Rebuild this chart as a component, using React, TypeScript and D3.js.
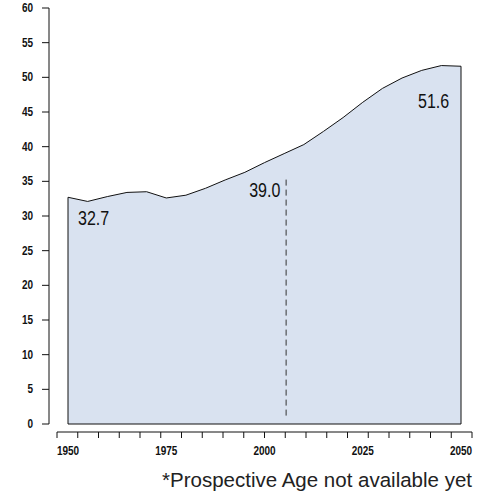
import React from "react";
import * as d3 from "d3";

const years = [1950,1955,1960,1965,1970,1975,1980,1985,1990,1995,2000,2005,2010,2015,2020,2025,2030,2035,2040,2045,2050];
const ages = [32.7,32.1,32.8,33.4,33.5,32.6,33.0,34.0,35.2,36.3,37.7,39.0,40.3,42.2,44.2,46.4,48.4,49.9,51.0,51.7,51.6];
const yTicks = [0,5,10,15,20,25,30,35,40,45,50,55,60];
const xLabels = [1950,1975,2000,2025,2050];
const callouts = [{year:1950,value:32.7,dx:10,dy:28},{year:2005,value:39.0,dx:-35,dy:43},{year:2050,value:51.6,dx:-43,dy:42}];
const markerYear = 2005.5;

function N({x, y, anchor, size, weight, children}: any) {
  return (
    <text transform={`translate(${x},${y}) scale(0.8,1)`} textAnchor={anchor} fontSize={size} fontWeight={weight}
      fontFamily="'Liberation Sans', Arial, sans-serif" fill="#111">{children}</text>
  );
}

export default function App() {
  const x = d3.scaleLinear().domain([1950,2050]).range([68,461]);
  const y = d3.scaleLinear().domain([0,60]).range([424,8]);
  const area = d3.area<number>().x((_, i) => x(years[i])).y0(y(0)).y1(d => y(d));
  const line = d3.line<number>().x((_, i) => x(years[i])).y(d => y(d));
  const axTicks = d3.range(21).map(i => 57 + i * (472 - 57) / 20);
  const mv = ages[years.indexOf(2005)];
  return (
    <svg width={492} height={493} style={{position:"absolute",left:0,top:0}}>
      <rect width={492} height={493} fill="#fff"/>
      <path d={area(ages) || ""} fill="#d9e2f0" stroke="none"/>
      <path d={(line(ages) || "")} fill="none" stroke="#111" strokeWidth={1}/>
      <path d={`M${x(1950)},${y(ages[0])}V${y(0)}H${x(2050)}V${y(ages[ages.length-1])}`} fill="none" stroke="#111" strokeWidth={1}/>
      <line x1={x(markerYear)} x2={x(markerYear)} y1={y(mv)+26} y2={y(0)-6} stroke="#333" strokeDasharray="6,4"/>
      <line x1={49} x2={49} y1={y(60)} y2={y(0)} stroke="#111"/>
      {yTicks.map(t => (
        <g key={t}>
          <line x1={42} x2={49} y1={y(t)} y2={y(t)} stroke="#111"/>
          <N x={33} y={y(t)+4} anchor="end" size={12.5} weight="bold">{t}</N>
        </g>
      ))}
      <line x1={57} x2={472} y1={432} y2={432} stroke="#111"/>
      {axTicks.map((t, i) => <line key={i} x1={t} x2={t} y1={432} y2={438} stroke="#111"/>)}
      {xLabels.map(l => (
        <N key={l} x={x(l)} y={455} anchor="middle" size={12.5} weight="bold">{l}</N>
      ))}
      {callouts.map(c => (
        <N key={c.year} x={x(c.year)+c.dx} y={y(c.value)+c.dy} anchor="start" size={20}>{c.value.toFixed(1)}</N>
      ))}
      <text x={472} y={487} textAnchor="end" fontSize={20.5} fontFamily="'Liberation Sans', Arial, sans-serif" fill="#222">*Prospective Age not available yet</text>
    </svg>
  );
}
